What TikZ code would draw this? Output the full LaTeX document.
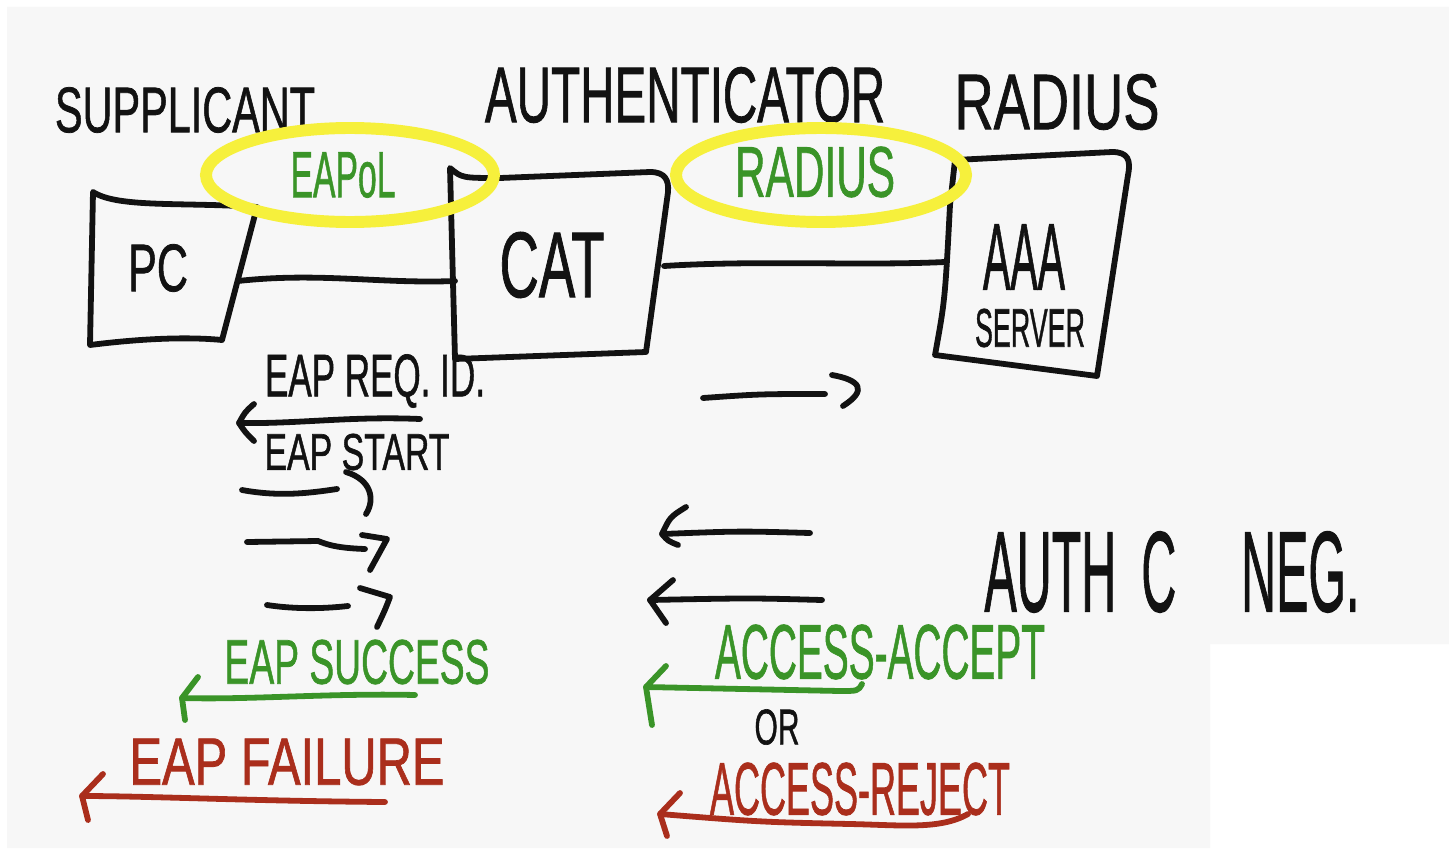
\documentclass[tikz,border=0pt]{standalone}
\usepackage{fontspec}
\usepackage{graphicx}
\setmainfont{Liberation Sans}
\newfontfamily\markerfont[FakeBold=1.2]{Liberation Sans}
\newlength\pxu
\setlength\pxu{0.02cm}
% marker lettering: text squeezed into a given width x cap height (in px units)
\newcommand\hand[3]{\resizebox{#1\pxu}{#2\pxu}{\markerfont #3}}
\definecolor{board}{RGB}{247,247,247}
\definecolor{marker}{RGB}{18,18,18}
\definecolor{mgreen}{RGB}{58,148,40}
\definecolor{mred}{RGB}{170,46,28}
\definecolor{hilite}{RGB}{246,240,60}
\begin{document}
\begin{tikzpicture}[x=0.02cm,y=-0.02cm,
  ink/.style={line width=3.3pt,line cap=round,line join=round,draw=marker},
  gink/.style={ink,draw=mgreen},
  rink/.style={ink,draw=mred},
  hl/.style={line width=6.8pt,draw=hilite},
  lbl/.style={inner sep=0pt,anchor=center,text=marker},
  glbl/.style={lbl,text=mgreen},
  rlbl/.style={lbl,text=mred}]
\useasboundingbox (0,0) rectangle (1449,848);
% whiteboard
\fill[white] (0,0) rectangle (1449,848);
\fill[board] (7,7) -- (1449,7) -- (1449,644) -- (1210,644) -- (1210,848) -- (7,848) -- cycle;

% role headings
\node[lbl] (sup)  at (185,110) {\hand{260}{45}{SUPPLICANT}};
\node[lbl] (auth) at (685,95)  {\hand{400}{55}{AUTHENTICATOR}};
\node[lbl] (rad)  at (1057,102) {\hand{205}{55}{RADIUS}};

% devices
\draw[ink] (93,192) .. controls (118,208) and (180,202) .. (257,207)
  -- (222,340) .. controls (180,336) and (130,340) .. (90,345) -- cycle;
\draw[ink] (450,168) .. controls (462,178) .. (500,178) -- (650,172)
  .. controls (665,172) and (669,180) .. (668,192) -- (646,352) -- (455,359) -- cycle;
\draw[ink] (955,160) -- (1112,152) .. controls (1128,152) and (1131,160) .. (1128,175)
  -- (1097,376) -- (935,355) .. controls (945,300) .. (950,205) -- cycle;
\node[lbl] (pc)  at (158,268) {\hand{60}{47}{PC}};
\node[lbl] (cat) at (552,265) {\hand{105}{65}{CAT}};
\node[lbl] (aaa) at (1024,257) {\hand{82}{65}{AAA}};
\node[lbl] (srv) at (1030,328) {\hand{110}{38}{SERVER}};

% links between devices
\coordinate (pcR)  at (238,281);
\coordinate (catL) at (455,281);
\coordinate (catR) at (664,266);
\coordinate (aaaL) at (945,262);
\draw[ink] (pcR) .. controls (320,272) and (380,284) .. (catL);
\draw[ink] (catR) .. controls (760,260) and (860,266) .. (aaaL);

% protocol highlights
\draw[hl] (350,175) ellipse [x radius=144, y radius=47];
\draw[hl] (821,175) ellipse [x radius=145, y radius=47];
\node[glbl] (eapol)  at (343,175) {\hand{105}{45}{EAPoL}};
\node[glbl] (radius) at (815,172) {\hand{160}{50}{RADIUS}};

% EAPoL exchange
\node[lbl] (req)   at (375,381) {\hand{220}{42}{EAP REQ. ID.}};
\node[lbl] (start) at (357,452) {\hand{185}{36}{EAP START}};
\coordinate (a1s) at (420,419);
\coordinate (a1e) at (239,423);
\draw[ink] (a1s) .. controls (350,416) and (300,424) .. (a1e);
\draw[ink] (254,404) .. controls (245,412) .. (a1e) .. controls (245,432) .. (254,441);

\coordinate (r1s) at (242,490);
\coordinate (r1e) at (337,489);
\draw[ink] (r1s) .. controls (280,497) and (310,493) .. (r1e);
\draw[ink] (346,472) .. controls (372,480) and (375,500) .. (366,514);
\coordinate (r2s) at (247,542);
\coordinate (r2e) at (365,549);
\draw[ink] (r2s) -- (318,541) .. controls (326,544) and (335,548) .. (r2e);
\draw[ink] (362,535) -- (387,539) -- (370,570);
\coordinate (r3s) at (267,605);
\coordinate (r3e) at (348,606);
\draw[ink] (r3s) .. controls (300,610) and (330,608) .. (r3e);
\draw[ink] (360,588) -- (390,597) .. controls (385,610) .. (377,627);

% RADIUS exchange
\coordinate (ras) at (703,398);
\coordinate (rae) at (825,394);
\draw[ink] (ras) .. controls (760,394) .. (rae);
\draw[ink] (832,375) .. controls (860,380) and (868,390) .. (843,406);
\coordinate (l1s) at (810,533);
\coordinate (l1e) at (662,534);
\draw[ink] (l1s) .. controls (740,531) .. (l1e);
\draw[ink] (686,507) .. controls (670,517) .. (l1e) .. controls (668,541) .. (678,545);
\coordinate (l2s) at (822,600);
\coordinate (l2e) at (650,600);
\draw[ink] (l2s) .. controls (750,598) .. (l2e);
\draw[ink] (673,580) -- (l2e) -- (666,623);
\node[lbl] (neg) at (1172,572) {\hand{375}{80}{AUTH\hspace{5.2pt}C\hspace{13.4pt}NEG.}};

% outcomes
\node[glbl] (esucc) at (357,662) {\hand{265}{44}{EAP SUCCESS}};
\coordinate (gss) at (415,695);
\coordinate (gse) at (182,698);
\draw[gink] (gss) .. controls (330,693) and (250,700) .. (gse);
\draw[gink] (198,677) -- (gse) -- (185,720);

\node[glbl] (aacc) at (880,652) {\hand{330}{54}{ACCESS-ACCEPT}};
\coordinate (gas) at (862,684);
\coordinate (gae) at (646,687);
\draw[gink] (gas) .. controls (858,691) .. (840,691) -- (gae);
\draw[gink] (666,666) -- (gae) -- (652,725);
\node[lbl] (or) at (777,727) {\hand{45}{35}{OR}};

\node[rlbl] (efail) at (287,762) {\hand{315}{46}{EAP FAILURE}};
\coordinate (rfs) at (385,802);
\coordinate (rfe) at (82,796);
\draw[rink] (rfs) .. controls (250,801) and (150,796) .. (rfe);
\draw[rink] (103,774) -- (rfe) -- (88,820);

\node[rlbl] (arej) at (860,789) {\hand{300}{52}{ACCESS-REJECT}};
\coordinate (rrs) at (968,814);
\coordinate (rre) at (660,814);
\draw[rink] (rrs) .. controls (940,830) and (900,825) .. (850,824)
  .. controls (760,822) .. (rre);
\draw[rink] (680,793) -- (rre) -- (667,836);
\end{tikzpicture}
\end{document}
